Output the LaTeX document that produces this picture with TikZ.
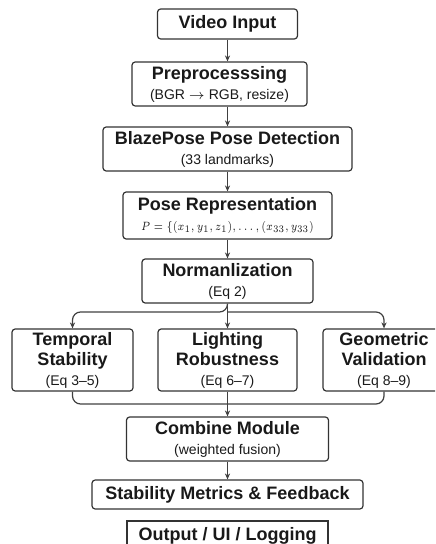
\documentclass[tikz,border=0pt]{standalone}
\usepackage{graphicx}
\usepackage{fontspec}
\setmainfont{Liberation Sans}
\usepackage{tikz}
\usetikzlibrary{arrows.meta}
\usetikzlibrary{positioning}

\newcommand{\subtxt}[1]{{\fontsize{7}{8.5}\selectfont\mdseries #1}}

\begin{document}
\begin{tikzpicture}[
      >={Stealth[length=3pt, width=2.6pt]},
      x=0.5pt, y=-0.5pt,
      box/.style={draw=black!80, line width=0.6pt, rounded corners=1.6pt, align=center,
        inner sep=0pt, text=black!90, font=\fontsize{9}{10}\selectfont\bfseries},
      flow/.style={->, draw=black!75, line width=0.6pt}
    ]
    \useasboundingbox (0,0) rectangle (435,544);
    \clip (0,0) rectangle (435,544);

    % Catena principale
    \node[box, minimum width=70pt, minimum height=15pt] (video) at (227.5,24) {Video Input};
    \node[box, minimum width=87.5pt, minimum height=22pt] (pre) at (219.5,84)
      {Preprocesssing\\\subtxt{(BGR $\rightarrow$ RGB, resize)}};
    \node[box, minimum width=124.5pt, minimum height=22pt] (blaze) at (227.5,149)
      {BlazePose Pose Detection\\\subtxt{(33 landmarks)}};
    \node[box, minimum width=104.5pt, minimum height=23.5pt] (rep) at (227.5,215.5)
      {Pose Representation\\\scalebox{0.82}[1]{\fontsize{5.8}{8}\selectfont$P=\{(x_1,y_1,z_1),\ldots,(x_{33},y_{33})$}};
    \node[box, minimum width=85.5pt, minimum height=22pt] (norm) at (227.5,281)
      {Normanlization\\\subtxt{(Eq 2)}};

    % Tre rami
    \node[box, minimum width=60.5pt, minimum height=31pt] (temporal) at (72.5,360)
      {Temporal\\Stability\\\subtxt{(Eq 3--5)}};
    \node[box, minimum width=69.5pt, minimum height=31pt] (lighting) at (227.5,360)
      {Lighting\\Robustness\\\subtxt{(Eq 6--7)}};
    \node[box, minimum width=61pt, minimum height=31pt] (geometric) at (384,360)
      {Geometric\\Validation\\\subtxt{(Eq 8--9)}};

    % Fusione e uscita
    \node[box, minimum width=101pt, minimum height=22pt] (combine) at (227.5,439)
      {Combine Module\\\subtxt{(weighted fusion)}};
    \node[box, minimum width=135.5pt, minimum height=14.5pt] (stability) at (227.5,494.5)
      {Stability Metrics \& Feedback};
    \node[box, sharp corners, line width=0.8pt, minimum width=100.5pt, minimum height=15pt] (output) at (227.5,536)
      {Output / UI / Logging};

    \coordinate (split) at (227.5,312);
    \coordinate (join) at (227.5,404);

    % Frecce
    \draw[flow] (video.south) -- (video.south |- pre.north);
    \draw[flow] (blaze.north |- pre.south) -- (blaze.north);
    \draw[flow] (blaze.south) -- (rep.north);
    \draw[flow] (rep.south) -- (norm.north);
    \draw[flow] (norm.south) -- (lighting.north);
    \draw[flow, rounded corners=4pt] (norm.south) -- (split) -| (temporal.north);
    \draw[flow, rounded corners=4pt] (split) -| (geometric.north);
    \draw[draw=black!75, line width=0.6pt, rounded corners=4pt] (temporal.south) |- (join) -| (geometric.south);
    \draw[flow] (lighting.south) -- (combine.north);
    \draw[flow] (combine.south) -- (stability.north);
  \end{tikzpicture}
\end{document}
